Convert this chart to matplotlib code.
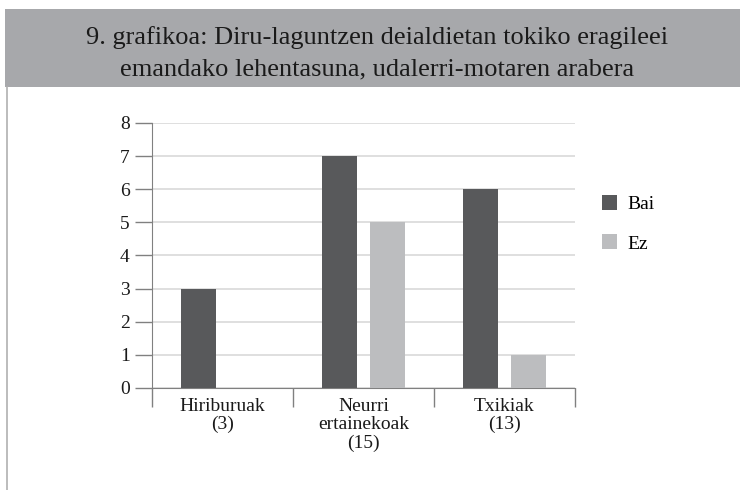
import numpy as np
import matplotlib.pyplot as plt
from matplotlib.patches import Rectangle
from matplotlib.lines import Line2D
from matplotlib import font_manager

# data
categories = ['Hiriburuak\n(3)', 'Neurri\nertainekoak\n(15)', 'Txikiak\n(13)']
bai = [3, 7, 6]
ez = [0, 5, 1]
title = '9. grafikoa: Diru-laguntzen deialdietan tokiko eragileei\nemandako lehentasuna, udalerri-motaren arabera'

names = sorted({f.name for f in font_manager.fontManager.ttflist})
serif = [n for n in ['Liberation Serif', 'Tinos', 'Noto Serif', 'DejaVu Serif'] if n in names]
plt.rcParams['font.family'] = serif + ['DejaVu Sans']

fig = plt.figure(figsize=(7.4, 4.9), dpi=100)

# title banner + left frame line
fig.patches.append(Rectangle((5/740, 1-87/490), 1, 78/490, transform=fig.transFigure,
                             facecolor='#a7a8ab', edgecolor='none'))
fig.lines.append(Line2D([6.5/740, 6.5/740], [0, 1-87/490], transform=fig.transFigure,
                        color='#b0b0b0', lw=1.2))
fig.text(0.51, 1-53/490, title, ha='center', va='center', fontsize=19,
         linespacing=1.55, color='#1a1a1a')

ax = fig.add_axes([152/740, 1-388/490, 423/740, 265/490])
x = np.arange(len(categories))
ax.bar(x - 0.17, bai, 0.25, color='#58595b', label='Bai', zorder=3)
ax.bar(x + 0.17, ez, 0.25, color='#bcbdbf', label='Ez', zorder=3)

ax.set_xlim(-0.5, 2.5)
ax.set_ylim(0, 8)
ax.set_yticks(range(9))
ax.yaxis.grid(True, color='#d9d9d9', lw=1.2)
ax.set_axisbelow(True)

ax.set_xticks(x)
ax.set_xticklabels(categories, fontsize=14, color='#1a1a1a', linespacing=1.1)
ax.set_xticks([-0.5, 0.5, 1.5, 2.5], minor=True)
ax.tick_params(axis='x', which='major', length=0, pad=7)
ax.tick_params(axis='x', which='minor', length=14, color='#808080', width=1)
ax.tick_params(axis='y', length=12, color='#808080', width=1, labelsize=14,
               labelcolor='#1a1a1a', pad=4)

for s in ['top', 'right']:
    ax.spines[s].set_visible(False)
for s in ['left', 'bottom']:
    ax.spines[s].set_color('#808080')

ax.legend(loc='upper left', bbox_to_anchor=(1.022, 0.795), frameon=False,
          fontsize=14, handlelength=0.8, handleheight=0.8, handletextpad=0.5,
          labelspacing=1.1)

fig.savefig('out.png', dpi=100)
